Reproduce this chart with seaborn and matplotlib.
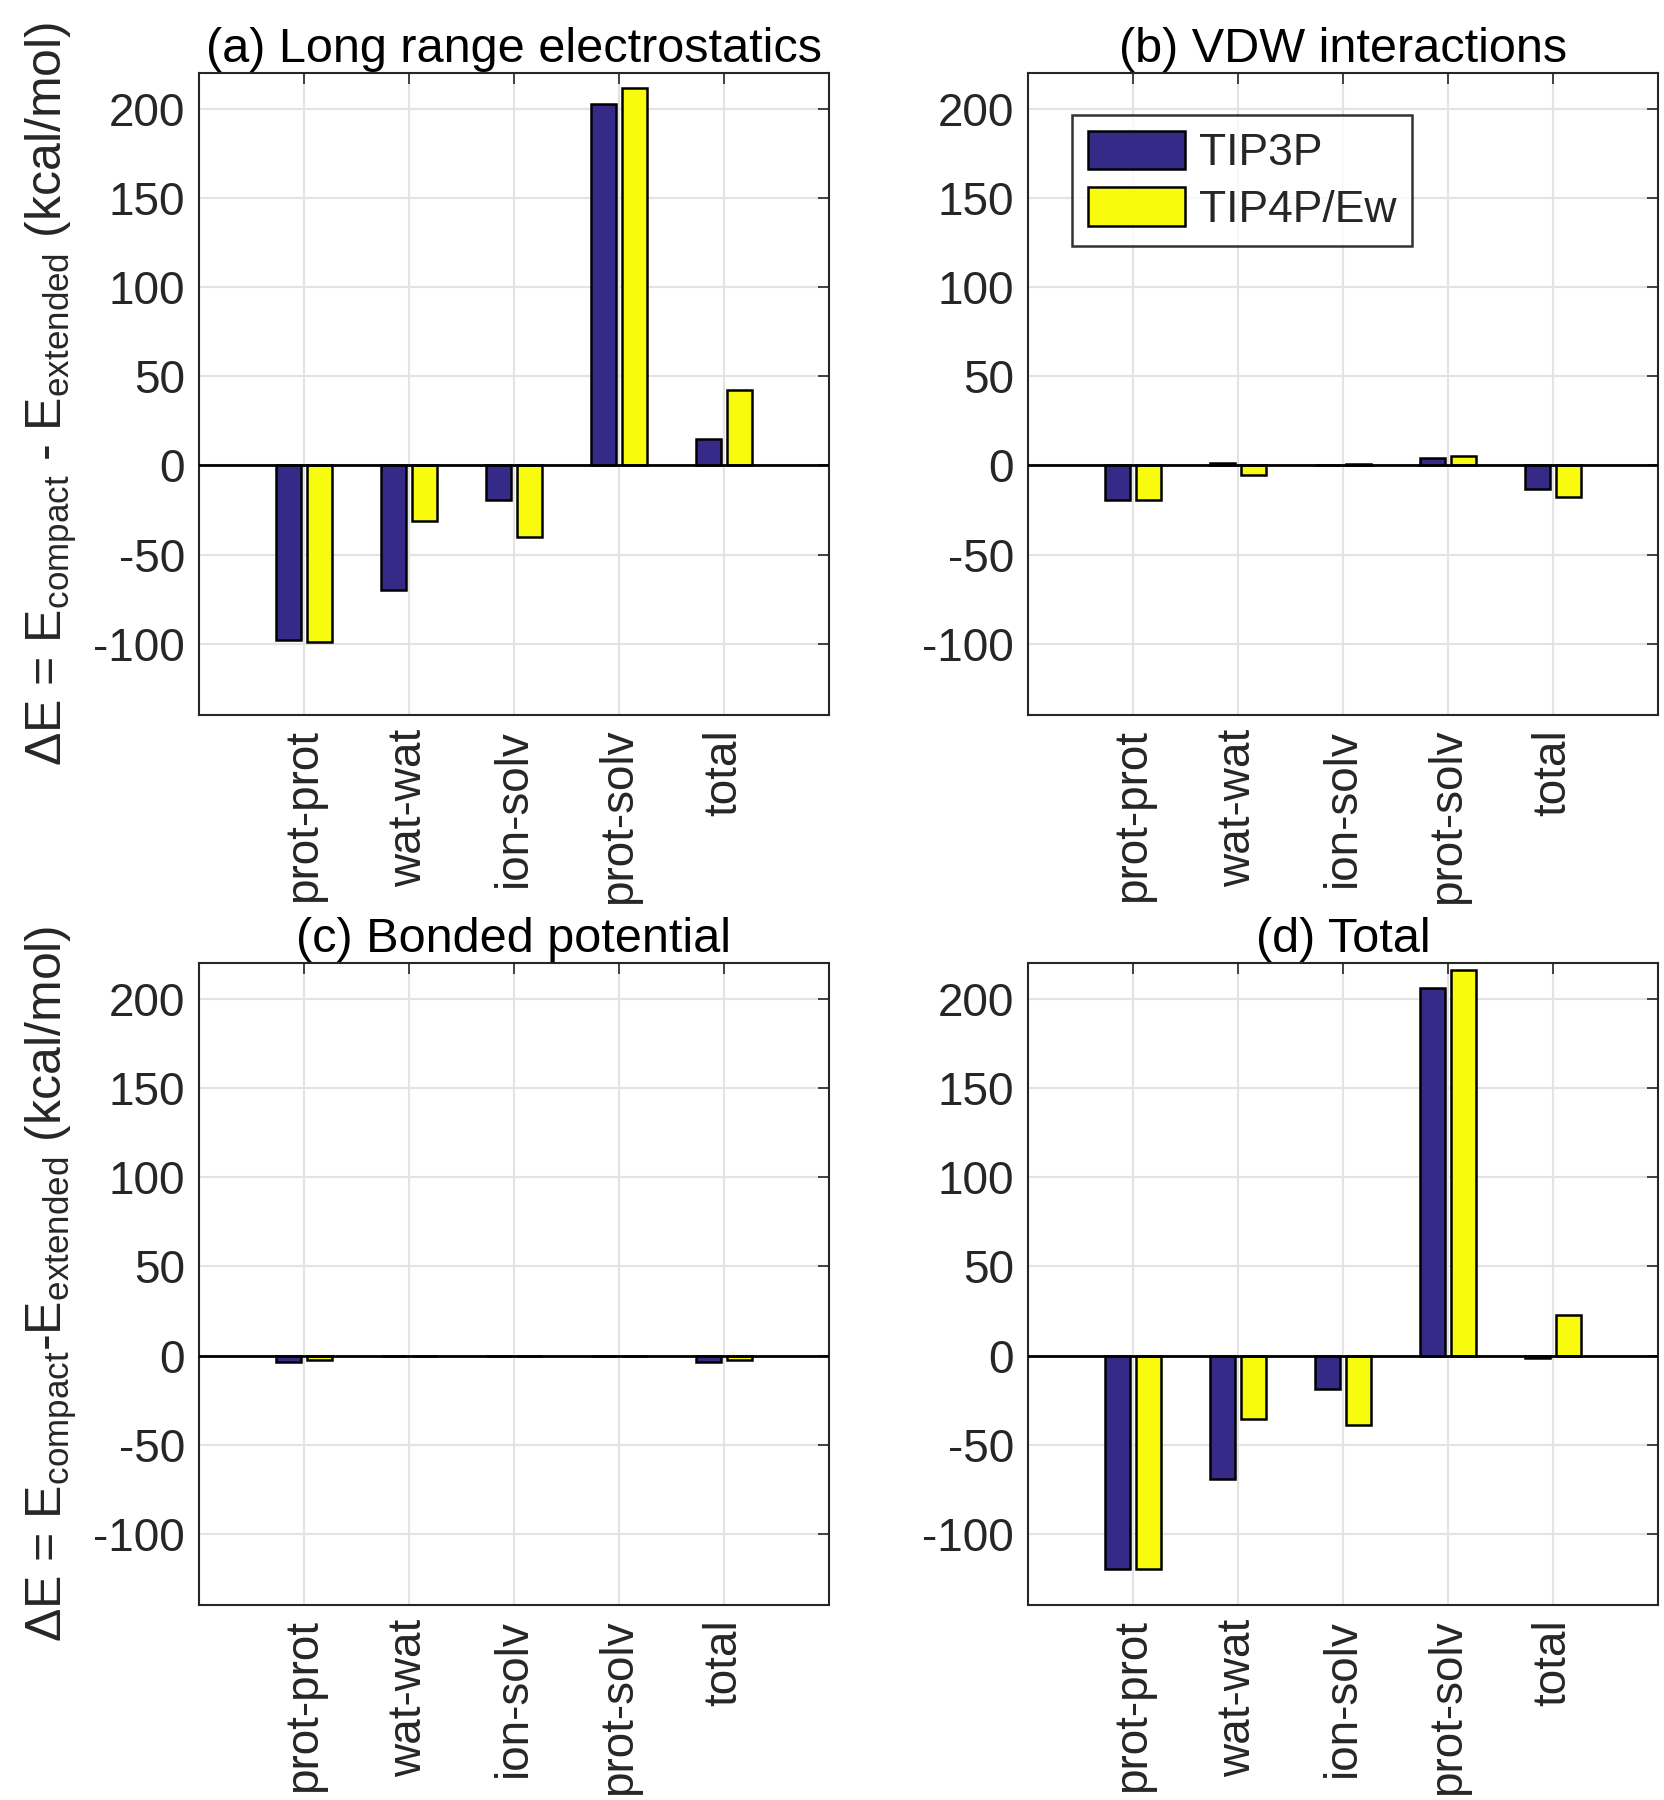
import numpy as np
import matplotlib.pyplot as plt
import pandas as pd
import seaborn as sns

categories = ['prot-prot', 'wat-wat', 'ion-solv', 'prot-solv', 'total']
models = ['TIP3P', 'TIP4P/Ew']

# (a) long range electrostatics
elec_tip3p = [-98, -70, -19.5, 202.5, 15]
elec_tip4p = [-99, -31, -40, 211.5, 42.5]
# (b) VDW
vdw_tip3p = [-19.5, 1.3, 0.2, 4.3, -13.5]
vdw_tip4p = [-19.5, -5.2, 0.9, 5, -18]
# (c) bonded
bond_tip3p = [-3.7, -0.5, -0.5, -0.5, -3.7]
bond_tip4p = [-2.4, -0.5, -0.5, -0.5, -2.4]
# (d) total
total_tip3p = [-120, -69, -19, 206, -1.5]
total_tip4p = [-119.5, -35.5, -39, 216.5, 23]

titles = ['(a) Long range electrostatics', '(b) VDW interactions',
          '(c) Bonded potential', '(d) Total']
panels = [(elec_tip3p, elec_tip4p), (vdw_tip3p, vdw_tip4p),
          (bond_tip3p, bond_tip4p), (total_tip3p, total_tip4p)]
colors = ['#352A87', '#F9FB0E']

sns.set_style('white')
plt.rcParams['font.family'] = ['Liberation Sans', 'DejaVu Sans']
plt.rcParams['mathtext.fontset'] = 'custom'
plt.rcParams['mathtext.rm'] = 'Liberation Sans'
plt.rcParams['mathtext.it'] = 'Liberation Sans'
plt.rcParams['axes.unicode_minus'] = False

fig = plt.figure(figsize=(16.65, 18), dpi=100)
lefts = [0.1195, 0.6174]
bottoms = [0.6028, 0.1083]
axes = []
for r in range(2):
    for c in range(2):
        axes.append(fig.add_axes([lefts[c], bottoms[r], 0.3784, 0.3565]))

for i, ax in enumerate(axes):
    t3, t4 = panels[i]
    df = pd.DataFrame({
        'cat': categories * 2,
        'model': [models[0]] * 5 + [models[1]] * 5,
        'dE': t3 + t4,
    })
    sns.barplot(data=df, x='cat', y='dE', hue='model', order=categories,
                hue_order=models, palette=colors, saturation=1, width=0.6, gap=0.22,
                edgecolor='black', linewidth=1.8, errorbar=None, ax=ax,
                legend=(i == 1), zorder=3)
    ax.axhline(0, color='black', lw=2, zorder=4)
    ax.set_xlim(-1, 5)
    ax.set_ylim(-140, 220)
    ax.set_yticks([-100, -50, 0, 50, 100, 150, 200])
    ax.set_xticks(range(5))
    ax.set_xticklabels(categories, rotation=90)
    ax.grid(True, color='#e3e3e3', lw=1.5, zorder=0)
    ax.set_axisbelow(True)
    ax.tick_params(direction='in', length=8, width=1.2, top=True, right=True,
                   labelsize=33, colors='#262626', pad=10)
    for s in ax.spines.values():
        s.set_color('#262626')
        s.set_linewidth(1.5)
    ax.set_xlabel('')
    ax.set_ylabel('')
    ax.set_title(titles[i], fontsize=35, pad=8, color='black')

axes[0].set_ylabel(r'$\Delta$E = E$_{\rm compact}$ - E$_{\rm extended}$ (kcal/mol)',
                   fontsize=36, labelpad=10)
axes[2].set_ylabel(r'$\Delta$E = E$_{\rm compact}$-E$_{\rm extended}$ (kcal/mol)',
                   fontsize=36, labelpad=10)

leg = axes[1].legend(loc='upper left', bbox_to_anchor=(0.07, 0.935), fontsize=32,
                     handlelength=2.2, handleheight=0.95, frameon=True,
                     fancybox=False, edgecolor='black', borderpad=0.35,
                     labelspacing=0.3, handletextpad=0.3, borderaxespad=0)
leg.get_frame().set_linewidth(1.8)

fig.savefig('out.png', dpi=100)
